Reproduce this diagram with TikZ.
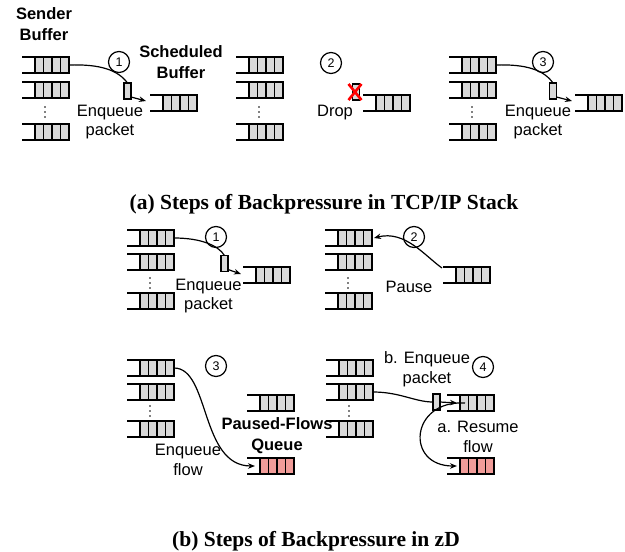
\documentclass[tikz,border=0pt]{standalone}
\usepackage{fontspec}
\setmainfont{Liberation Serif}
\newfontfamily\lsans{Liberation Sans}
\usetikzlibrary{arrows.meta}
\definecolor{qgray}{HTML}{D9D9D9}
\definecolor{qred}{HTML}{F19C99}
\definecolor{xred}{HTML}{FF0000}
\tikzset{
  qline/.style={line width=1.3pt, black},
  pics/queue/.style={code={
    \node[draw, line width=1.3pt, fill=#1, minimum width=34pt, minimum height=16pt, inner sep=0pt, outer sep=0pt] (-c) at (0,0) {};
    \foreach \dx in {-8.5,0,8.5} \draw[qline] (\dx,-8) -- (\dx,8);
    \draw[qline] (-17,-8) -- (-30,-8) (-17,8) -- (-30,8);
  }},
  pics/queue/.default=qgray,
  pkt/.style={draw, line width=1.2pt, fill=qgray, minimum width=7pt, minimum height=16pt, inner sep=0pt, outer sep=0pt},
  numc/.style={draw, circle, line width=1.2pt, minimum size=21pt, inner sep=0pt, font=\lsans\fontsize{12.5}{12.5}\selectfont},
  lbl/.style={font=\lsans\fontsize{16.5}{19.5}\selectfont, align=center, inner sep=0pt},
  blbl/.style={font=\lsans\bfseries\fontsize{16.5}{21}\selectfont, align=center, inner sep=0pt},
  captxt/.style={font=\bfseries\fontsize{21.5}{24}\selectfont, inner sep=0pt},
  conn/.style={line width=1.2pt},
  arr/.style={conn, -{Stealth[length=7pt,width=5.5pt]}},
}
\newcommand\qdots[2]{\fill (#1,#2-5) circle[radius=0.9pt] (#1,#2) circle[radius=0.9pt] (#1,#2+5) circle[radius=0.9pt];}
\begin{document}
\begin{tikzpicture}[x=1pt,y=-1pt]
\useasboundingbox (0,0) rectangle (625,552);
% ===== panel (a) step 1
\pic (sa1) at (52,65) {queue};
\pic (sa2) at (52,90) {queue};
\pic (sa3) at (52,132) {queue};
\qdots{45}{112}
\node[blbl] (sender) at (44,24) {Sender\\Buffer};
\node[pkt] (pa1) at (127.5,91) {};
\node[numc] (na1) at (119,62) {1};
\pic (qa1) at (180,103) {queue};
\node[blbl] (sched) at (181,62) {Scheduled\\Buffer};
\node[lbl] (ea1) at (110,122) {Enqueue\\packet};
\coordinate (ta1) at (146,101);
\draw[conn] (sa1-c.east) .. controls (100,64) and (118,70) .. (pa1.north);
\draw[arr] ([yshift=2pt]pa1.south east) -- (ta1);
% ===== panel (a) step 2
\pic (sb1) at (266,65) {queue};
\pic (sb2) at (266,90) {queue};
\pic (sb3) at (266,132) {queue};
\qdots{259}{112}
\node[numc] (na2) at (331,63) {2};
\node[pkt] (pa2) at (356,92) {};
\draw[xred, line width=2.6pt] (348.5,84) -- (361.5,100) (361.5,84) -- (348.5,100);
\pic (qa2) at (393,103) {queue};
\node[lbl] (drop) at (335,113) {Drop};
% ===== panel (a) step 3
\pic (sc1) at (479,65) {queue};
\pic (sc2) at (479,90) {queue};
\pic (sc3) at (479,132) {queue};
\qdots{472}{112}
\node[pkt] (pa3) at (553,91) {};
\node[numc] (na3) at (543,62) {3};
\pic (qa3) at (605,103) {queue};
\node[lbl] (ea3) at (538,122) {Enqueue\\packet};
\coordinate (ta3) at (572,101);
\draw[conn] (sc1-c.east) .. controls (526,64) and (544,70) .. (pa3.north);
\draw[arr] ([yshift=2pt]pa3.south east) -- (ta3);
\node[captxt] (capa) at (324,204) {(a) Steps of Backpressure in TCP/IP Stack};
% ===== panel (b) step 1
\pic (sd1) at (157,238) {queue};
\pic (sd2) at (157,262) {queue};
\pic (sd3) at (157,301) {queue};
\qdots{150}{283}
\node[numc] (nb1) at (216,237) {1};
\node[pkt] (pb1) at (224.5,263.5) {};
\pic (qb1) at (273,275) {queue};
\node[lbl] (eb1) at (208.5,296) {Enqueue\\packet};
\coordinate (tb1) at (241,274);
\draw[conn] (sd1-c.east) .. controls (200,238) and (218,245) .. (pb1.north);
\draw[arr] ([yshift=2pt]pb1.south east) -- (tb1);
% ===== panel (b) step 2
\pic (se1) at (355,238) {queue};
\pic (se2) at (355,262) {queue};
\pic (se3) at (355,301) {queue};
\qdots{348}{283}
\node[numc] (nb2) at (414,237) {2};
\pic (qb2) at (473,275) {queue};
\node[lbl] (pause) at (409,287) {Pause};
\coordinate (sb2s) at (442,268);
\draw[arr] (sb2s) .. controls (425,256) and (405,230) .. ([xshift=2pt]se1-c.east);
% ===== panel (b) step 3
\pic (sf1) at (157,368) {queue};
\pic (sf2) at (157,392) {queue};
\pic (sf3) at (157,429) {queue};
\qdots{150}{411}
\node[numc] (nb3) at (216,366) {3};
\pic (qb3) at (277,403) {queue};
\pic (rb3) at (277,466) {queue=qred};
\node[blbl] (pfq) at (277,436) {Paused-Flows\\Queue};
\node[lbl] (ef3) at (188,460) {Enqueue\\flow};
\coordinate (tb3) at (255,466);
\draw[arr] (sf1-c.east) .. controls (210,368) and (200,466) .. (tb3);
% ===== panel (b) step 4
\pic (sg1) at (356,368) {queue};
\pic (sg2) at (356,392) {queue};
\pic (sg3) at (356,429) {queue};
\qdots{349}{411}
\node[lbl] (be4) at (427,369) {b. Enqueue\\packet};
\node[numc] (nb4) at (483,367) {4};
\node[pkt] (pb4) at (436.5,402) {};
\pic (qb4) at (477,403) {queue};
\pic (rb4) at (477,466) {queue=qred};
\node[lbl] (ar4) at (478,437) {a. Resume\\flow};
\coordinate (tb4) at (457,403);
\coordinate (sr4) at (465,403);
\coordinate (tr4) at (457,466);
\draw[conn] (sg2-c.east) .. controls (400,392) and (415,402) .. (pb4.west);
\draw[arr] (pb4.east) -- (tb4);
\draw[arr] (sr4) .. controls (410,400) and (405,466) .. (tr4);
\node[captxt] (capb) at (316,541) {(b) Steps of Backpressure in zD};
\end{tikzpicture}
\end{document}
